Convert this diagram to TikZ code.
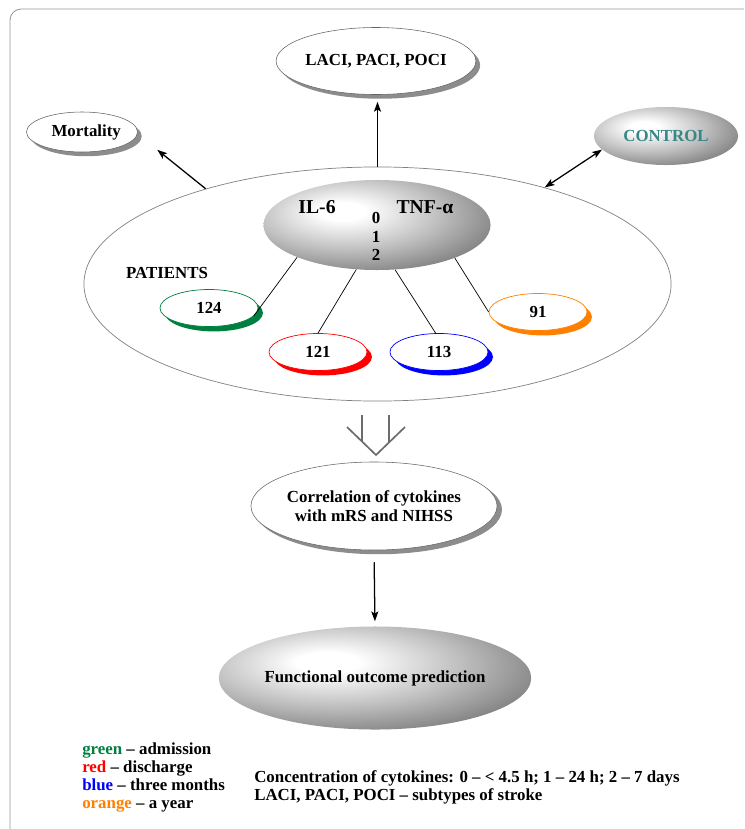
\documentclass[tikz,border=0pt]{standalone}
\usepackage{fontspec}
\setmainfont{Liberation Serif}
\usetikzlibrary{shapes.geometric,shadows,arrows.meta}
\definecolor{admgreen}{RGB}{0,128,64}
\definecolor{disred}{RGB}{255,0,0}
\definecolor{tmblue}{RGB}{0,0,255}
\definecolor{yrorange}{RGB}{255,128,0}
\definecolor{ctrlteal}{RGB}{55,135,135}
\definecolor{shadowgray}{RGB}{140,140,140}
\definecolor{framegray}{RGB}{150,150,150}
\pgfdeclareradialshading{greyball}{\pgfpoint{-8bp}{8bp}}{%
  color(0bp)=(white); color(5bp)=(white); color(20bp)=(gray!50);
  color(31bp)=(gray!90); color(42bp)=(gray!75!black); color(100bp)=(gray!75!black)}

\begin{document}
\begin{tikzpicture}[x=0.025cm,y=-0.025cm,
  font=\bfseries\fontsize{12}{13}\selectfont,
  bubble/.style={ellipse,draw=gray!80!black,line width=0.4pt,fill=white,inner sep=0pt,
    drop shadow={shadow xshift=3pt,shadow yshift=-3pt,opacity=1,fill=shadowgray}},
  visit/.style={ellipse,draw=#1,line width=0.5pt,fill=white,inner sep=0pt,
    minimum width=2.45cm,minimum height=0.925cm,
    drop shadow={shadow xshift=3.5pt,shadow yshift=-3.5pt,opacity=1,fill=#1}},
  ball/.style={ellipse,shading=greyball,inner sep=0pt},
  arw/.style={-{Stealth[length=7pt,width=5pt,inset=1.5pt]},line width=0.9pt},
  ]
  \useasboundingbox (0,0) rectangle (744,829);
  % frame (cut at right and bottom)
  \draw[framegray,line width=0.6pt,rounded corners=8pt] (10,829) -- (10,9) -- (744,9);

  % outer nodes
  \node[bubble,minimum width=4.2cm,minimum height=1.675cm] (subtypes) at (376,61) {LACI, PACI, POCI};
  \node[bubble,minimum width=2.775cm,minimum height=1cm] (mort) at (82,132) {\hspace{6pt}Mortality};
  \node[ball,minimum width=3.6cm,minimum height=1.45cm,text=ctrlteal] (control) at (666,136) {CONTROL};

  % patients group
  \node[ellipse,draw=gray,line width=0.5pt,minimum width=14.675cm,minimum height=5.85cm] (patients) at (377.5,284) {};
  \node[ball,minimum width=5.675cm,minimum height=2.25cm] (cyto) at (377,225) {};
  \node[font=\bfseries\fontsize{14}{15}\selectfont] (il6) at (317,207) {IL-6};
  \node[font=\bfseries\fontsize{14}{15}\selectfont] (tnf) at (425,207) {TNF-α};
  \foreach \t/\y in {0/218,1/237,2/255}
    \node (time\t) at (376,\y) {\t};
  \node (ptlabel) at (167,273) {PATIENTS};
  \node[visit=admgreen] (v124) at (209,308) {124};
  \node[visit=disred] (v121) at (318,352) {121};
  \node[visit=tmblue] (v113) at (439,352) {113};
  \node[visit=yrorange] (v91) at (538,312) {91};
  \draw[line width=0.5pt] (v124.-10) -- (cyto.202);
  \draw[line width=0.5pt] (v121.north) -- (cyto.245);
  \draw[line width=0.5pt] (v113.100) -- (cyto.292);
  \draw[line width=0.5pt] (v91.west) -- (cyto.-23);

  % arrows out of the group
  \draw[arw,shorten >=5pt] (patients.north) -- (patients.north |- subtypes.south);
  \draw[arw,shorten >=18pt] (patients.151) -- (mort.-2);
  \draw[arw,{Stealth[length=7pt,width=5pt,inset=1.5pt]}-{Stealth[length=7pt,width=5pt,inset=1.5pt]}] (patients.30) -- (control.192);

  % hollow arrow
  \draw[gray!85!black,line width=1.2pt] (362,415) -- (362,441.5) (389,415) -- (389,442.4)
    (347,427) -- (376,455) -- (405,427);

  % lower part
  \node[bubble,minimum width=5.8cm,minimum height=2.2cm,align=center,
    drop shadow={shadow xshift=3.5pt,shadow yshift=-2.5pt,opacity=1,fill=shadowgray}] (corr) at (374,506)
    {Correlation of cytokines\\ with mRS and NIHSS};
  \node[ball,minimum width=6.6cm,minimum height=2.575cm] (func) at (375,678) {Functional outcome prediction};
  \draw[arw,shorten <=8.5pt,shorten >=3.5pt] (corr.south) -- (func.north);

  % legend
  \node[anchor=north west,align=left,inner sep=0pt] (legend) at (82,742)
    {\textcolor{admgreen}{green} -- admission\\
     \textcolor{disred}{red} -- discharge\\
     \textcolor{tmblue}{blue} -- three months\\
     \textcolor{yrorange}{orange} -- a year};
  \node[anchor=north west,align=left,inner sep=0pt] (notes) at (254,770)
    {Concentration of cytokines: 0 -- < 4.5 h; 1 -- 24 h; 2 -- 7 days\\
     LACI, PACI, POCI -- subtypes of stroke};
\end{tikzpicture}
\end{document}
